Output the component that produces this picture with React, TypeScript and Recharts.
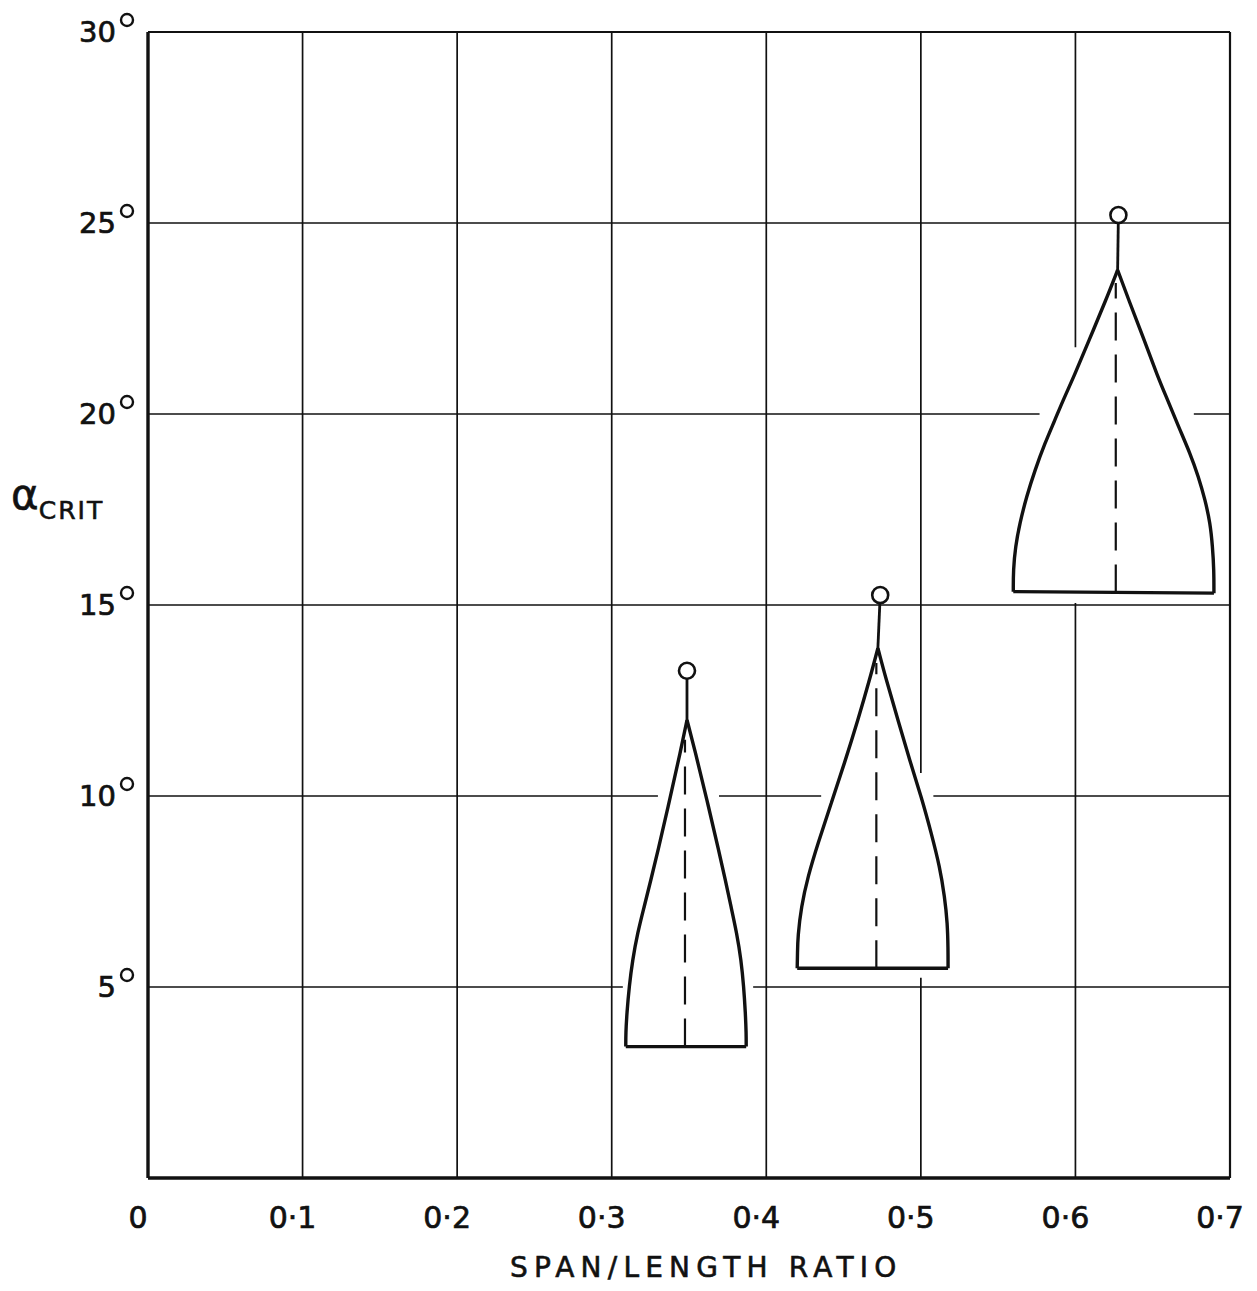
import React from 'react';
import { ComposedChart, Line, Scatter, XAxis, YAxis, ReferenceLine } from 'recharts';

// axis ticks
const xTicks = [0, 0.1, 0.2, 0.3, 0.4, 0.5, 0.6, 0.7];
const xTickLabels = ['0', '0·1', '0·2', '0·3', '0·4', '0·5', '0·6', '0·7'];
const yTicks = [0, 5, 10, 15, 20, 25, 30];

// envelope outlines (base corner up to peak)
const left1 = [
  { x: 0.3091, y: 3.44 }, { x: 0.3091, y: 3.79 }, { x: 0.3098, y: 4.31 }, { x: 0.3113, y: 5.01 }, { x: 0.3135, y: 5.71 },
  { x: 0.3167, y: 6.41 }, { x: 0.321, y: 7.1 }, { x: 0.3253, y: 7.8 }, { x: 0.3296, y: 8.51 }, { x: 0.3375, y: 9.9 },
  { x: 0.3447, y: 11.2 }, { x: 0.3487, y: 11.99 },
];
const right1 = [
  { x: 0.387, y: 3.44 }, { x: 0.387, y: 3.79 }, { x: 0.3865, y: 4.31 }, { x: 0.3854, y: 5.01 }, { x: 0.3837, y: 5.71 },
  { x: 0.3809, y: 6.41 }, { x: 0.3772, y: 7.1 }, { x: 0.3735, y: 7.8 }, { x: 0.3696, y: 8.51 }, { x: 0.3616, y: 9.9 },
  { x: 0.3538, y: 11.2 }, { x: 0.3487, y: 11.99 },
];
const left2 = [
  { x: 0.42, y: 5.49 }, { x: 0.4202, y: 5.9 }, { x: 0.4204, y: 6.32 }, { x: 0.4226, y: 7.1 }, { x: 0.4269, y: 7.89 },
  { x: 0.4334, y: 8.76 }, { x: 0.442, y: 9.81 }, { x: 0.4506, y: 10.86 }, { x: 0.4593, y: 11.99 }, { x: 0.4668, y: 13.04 },
  { x: 0.4722, y: 13.87 },
];
const right2 = [
  { x: 0.5176, y: 5.49 }, { x: 0.5176, y: 6.0 }, { x: 0.5172, y: 6.67 }, { x: 0.5154, y: 7.36 }, { x: 0.5122, y: 8.15 },
  { x: 0.5068, y: 9.02 }, { x: 0.5003, y: 9.98 }, { x: 0.4927, y: 10.94 }, { x: 0.4852, y: 11.99 }, { x: 0.4776, y: 13.04 },
  { x: 0.4722, y: 13.87 },
];
const left3 = [
  { x: 0.5598, y: 15.35 }, { x: 0.5598, y: 15.92 }, { x: 0.5612, y: 16.53 }, { x: 0.564, y: 17.14 }, { x: 0.5684, y: 17.84 },
  { x: 0.5738, y: 18.53 }, { x: 0.5802, y: 19.23 }, { x: 0.5867, y: 19.84 }, { x: 0.5921, y: 20.37 }, { x: 0.599, y: 20.98 },
  { x: 0.6089, y: 21.94 }, { x: 0.6197, y: 22.98 }, { x: 0.6273, y: 23.77 },
];
const right3 = [
  { x: 0.6896, y: 15.31 }, { x: 0.6896, y: 15.92 }, { x: 0.6887, y: 16.53 }, { x: 0.6872, y: 17.14 }, { x: 0.6839, y: 17.75 },
  { x: 0.6796, y: 18.36 }, { x: 0.6742, y: 18.97 }, { x: 0.6667, y: 19.67 }, { x: 0.6596, y: 20.37 }, { x: 0.6532, y: 20.98 },
  { x: 0.6445, y: 21.94 }, { x: 0.6345, y: 22.98 }, { x: 0.6273, y: 23.77 },
];

// measured points (circles) and centre lines
const markers = [
  { x: 0.3487, y: 13.28 },
  { x: 0.4737, y: 15.26 },
  { x: 0.6278, y: 25.21 },
];
const peaks = [
  { x: 0.3487, y: 11.99 },
  { x: 0.4722, y: 13.87 },
  { x: 0.6273, y: 23.77 },
];
const centres = [
  { x: 0.3474, from: 3.44, to: 11.47 },
  { x: 0.4712, from: 5.49, to: 13.48 },
  { x: 0.6261, from: 15.33, to: 23.43 },
];

// breaks in the drawn grid lines
const hGrid = [
  { at: 5, gaps: [[0.3072, 0.3915]] },
  { at: 10, gaps: [[0.3299, 0.3694], [0.4355, 0.5081]] },
  { at: 15, gaps: [] },
  { at: 20, gaps: [[0.5768, 0.6766]] },
  { at: 25, gaps: [] },
];
const vGrid = [
  { at: 0.1, gaps: [] },
  { at: 0.2, gaps: [] },
  { at: 0.3, gaps: [] },
  { at: 0.4, gaps: [] },
  { at: 0.5, gaps: [[5.24, 10.6]] },
  { at: 0.6, gaps: [[15.05, 21.75]] },
];

const splitRange = (lo: number, hi: number, gaps: number[][]) => {
  const out: [number, number][] = [];
  let start = lo;
  gaps.forEach(([a, b]) => {
    out.push([start, a]);
    start = b;
  });
  out.push([start, hi]);
  return out;
};

const FONT = '"DejaVu Sans", sans-serif';
const INK = '#111';

const renderXTick = (props: any) => {
  const { x, y, payload } = props;
  const i = xTicks.indexOf(payload.value);
  return (
    <text
      key={`xt${i}`}
      x={x - 10}
      y={y + 39}
      textAnchor="middle"
      dominantBaseline="central"
      fontFamily={FONT}
      fontSize={30}
      fill={INK}
      stroke={INK}
      strokeWidth={0.7}
    >
      {xTickLabels[i]}
    </text>
  );
};

const renderYTick = (props: any) => {
  const { x, y, payload } = props;
  if (payload.value === 0) return <g key="yt0" />;
  return (
    <g key={`yt${payload.value}`}>
      <text
        x={x - 32}
        y={y}
        textAnchor="end"
        dominantBaseline="central"
        fontFamily={FONT}
        fontSize={29}
        fill={INK}
        stroke={INK}
        strokeWidth={0.7}
      >
        {payload.value}
      </text>
      <circle cx={x - 21} cy={y - 12} r={6} fill="none" stroke={INK} strokeWidth={2.4} />
    </g>
  );
};

const Ring = (props: any) => {
  const { cx, cy } = props;
  return <circle cx={cx} cy={cy} r={8} fill="#fff" stroke={INK} strokeWidth={2.6} />;
};

const outline = { stroke: INK, strokeWidth: 3.4, dot: false, isAnimationActive: false, legendType: 'none' as const };

export default function App() {
  const sides = [left1, right1, left2, right2, left3, right3];
  const bases = [
    [left1[0], right1[0]],
    [left2[0], right2[0]],
    [left3[0], right3[0]],
  ];
  return (
    <div style={{ position: 'absolute', left: 0, top: 0, width: 1257, height: 1291, background: '#fff' }}>
      <ComposedChart width={1257} height={1291} margin={{ top: 32, right: 27, bottom: 53, left: 88 }}>
        <XAxis
          type="number"
          dataKey="x"
          domain={[0, 0.7]}
          ticks={xTicks}
          height={60}
          axisLine={false}
          tickLine={false}
          tickSize={0}
          tickMargin={0}
          tick={(p: any) => renderXTick({ ...p, y: 1178 })}
          allowDataOverflow
          interval={0}
        />
        <YAxis
          type="number"
          dataKey="y"
          domain={[0, 30]}
          ticks={yTicks}
          width={60}
          axisLine={false}
          tickLine={false}
          tickSize={0}
          tickMargin={0}
          tick={(p: any) => renderYTick({ ...p, x: 148 })}
          allowDataOverflow
          interval={0}
        />

        {hGrid.map((g) =>
          splitRange(0, 0.7, g.gaps).map(([a, b], k) => (
            <ReferenceLine key={`h${g.at}-${k}`} segment={[{ x: a, y: g.at }, { x: b, y: g.at }]} stroke={INK} strokeWidth={1.7} />
          ))
        )}
        {vGrid.map((g) =>
          splitRange(0, 30, g.gaps).map(([a, b], k) => (
            <ReferenceLine key={`v${g.at}-${k}`} segment={[{ x: g.at, y: a }, { x: g.at, y: b }]} stroke={INK} strokeWidth={1.7} />
          ))
        )}

        <ReferenceLine x={0} stroke={INK} strokeWidth={3.4} />
        <ReferenceLine y={0} stroke={INK} strokeWidth={3.4} />
        <ReferenceLine y={30} stroke={INK} strokeWidth={2.2} />
        <ReferenceLine x={0.7} stroke={INK} strokeWidth={2.2} />

        {sides.map((s, i) => (
          <Line key={`side${i}`} data={s} dataKey="y" type="basis" {...outline} />
        ))}
        {bases.map((b, i) => (
          <Line key={`base${i}`} data={b} dataKey="y" type="linear" {...outline} />
        ))}
        {peaks.map((p, i) => (
          <Line key={`stem${i}`} data={[p, markers[i]]} dataKey="y" type="linear" {...outline} strokeWidth={2.8} />
        ))}
        {centres.map((c, i) => (
          <Line
            key={`ctr${i}`}
            data={[{ x: c.x, y: c.from }, { x: c.x, y: c.to }]}
            dataKey="y"
            type="linear"
            {...outline}
            strokeWidth={2.2}
            strokeDasharray="28 14"
          />
        ))}
        <Scatter data={markers} shape={<Ring />} isAnimationActive={false} legendType="none" />
      </ComposedChart>

      <div
        style={{
          position: 'absolute',
          left: 11,
          top: 470,
          fontFamily: FONT,
          color: INK,
          whiteSpace: 'nowrap',
          WebkitTextStroke: '0.6px #111',
        }}
      >
        <span style={{ fontSize: 42 }}>α</span>
        <span style={{ fontSize: 25, letterSpacing: 2, position: 'relative', top: 10 }}>CRIT</span>
      </div>
      <div
        style={{
          position: 'absolute',
          left: 510,
          top: 1251,
          fontFamily: FONT,
          fontSize: 28,
          letterSpacing: 6.2,
          color: INK,
          whiteSpace: 'nowrap',
          WebkitTextStroke: '0.6px #111',
        }}
      >
        SPAN/LENGTH RATIO
      </div>
    </div>
  );
}
